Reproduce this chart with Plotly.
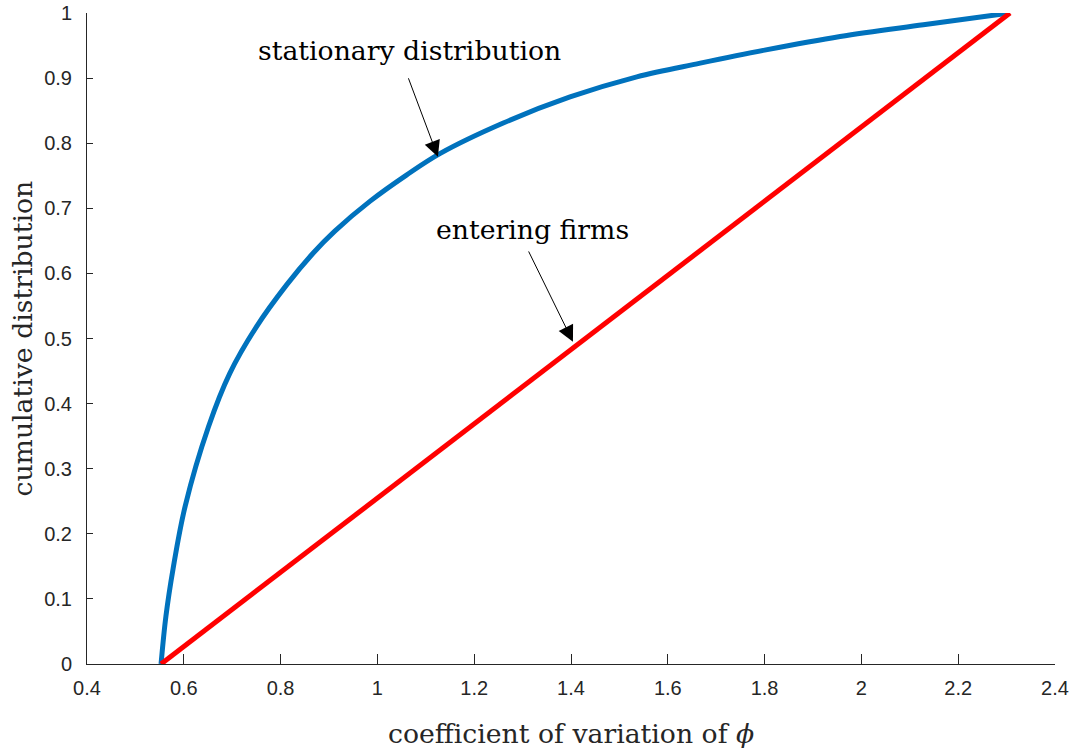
import plotly.graph_objects as go

# Stationary distribution (blue curve)
stat_x = [0.553, 0.563, 0.578, 0.603, 0.651, 0.695, 0.750, 0.812, 0.867, 0.912, 0.985,
          1.06, 1.129, 1.26, 1.398, 1.536, 1.667, 1.80, 1.956, 2.128, 2.307]
stat_y = [0.0, 0.073, 0.147, 0.243, 0.3645, 0.4465, 0.518, 0.582, 0.631, 0.665, 0.711,
          0.751, 0.784, 0.831, 0.871, 0.902, 0.923, 0.943, 0.964, 0.982, 1.0]

# Entering firms (red line)
enter_x = [0.553, 2.307]
enter_y = [0.0, 1.0]

x_ticks = [0.4, 0.6, 0.8, 1.0, 1.2, 1.4, 1.6, 1.8, 2.0, 2.2, 2.4]
x_ticklabels = ["0.4", "0.6", "0.8", "1", "1.2", "1.4", "1.6", "1.8", "2", "2.2", "2.4"]
y_ticks = [0, 0.1, 0.2, 0.3, 0.4, 0.5, 0.6, 0.7, 0.8, 0.9, 1.0]
y_ticklabels = ["0", "0.1", "0.2", "0.3", "0.4", "0.5", "0.6", "0.7", "0.8", "0.9", "1"]

SERIF = "DejaVu Serif, Liberation Serif, serif"
SANS = "Liberation Sans, Arial, sans-serif"
AXC = "#262626"
TXT = 26.7

fig = go.Figure()
fig.add_trace(go.Scatter(x=stat_x, y=stat_y, mode="lines",
                         line=dict(color="#0072BD", width=5, shape="spline", smoothing=1.0),
                         showlegend=False))
fig.add_trace(go.Scatter(x=enter_x, y=enter_y, mode="lines",
                         line=dict(color="#FF0000", width=5),
                         showlegend=False))

# text labels
fig.add_annotation(x=1.067, y=0.943, xref="x", yref="y", text="stationary distribution",
                   showarrow=False, font=dict(family=SERIF, size=TXT, color="black"))
fig.add_annotation(x=1.321, y=0.667, xref="x", yref="y", text="entering firms",
                   showarrow=False, font=dict(family=SERIF, size=TXT, color="black"))
# arrows
fig.add_annotation(x=1.125, y=0.779, ax=1.063, ay=0.902, xref="x", yref="y",
                   axref="x", ayref="y", text="", showarrow=True,
                   arrowhead=2, arrowsize=3.2, arrowwidth=1, arrowcolor="black")
fig.add_annotation(x=1.404, y=0.495, ax=1.311, ay=0.636, xref="x", yref="y",
                   axref="x", ayref="y", text="", showarrow=True,
                   arrowhead=2, arrowsize=3.2, arrowwidth=1, arrowcolor="black")

# axis titles
fig.add_annotation(x=0.5, y=-0.106, xref="paper", yref="paper",
                   text="coefficient of variation of <i>ϕ</i>", showarrow=False,
                   xanchor="center", yanchor="middle",
                   font=dict(family=SERIF, size=TXT, color=AXC))
fig.add_annotation(x=-0.0671, y=0.5, xref="paper", yref="paper",
                   text="cumulative distribution", showarrow=False, textangle=-90,
                   xanchor="center", yanchor="middle",
                   font=dict(family=SERIF, size=TXT, color=AXC))

fig.update_layout(
    width=1074, height=748,
    margin=dict(l=87, r=19, t=13, b=84),
    paper_bgcolor="white", plot_bgcolor="white",
    xaxis=dict(range=[0.4, 2.4], tickvals=x_ticks, ticktext=x_ticklabels,
               automargin=False,
               showgrid=False, zeroline=False, showline=True, linecolor=AXC, linewidth=1,
               ticks="inside", ticklen=10, tickcolor=AXC, tickwidth=1,
               ticklabelstandoff=6,
               tickfont=dict(family=SANS, size=20, color=AXC)),
    yaxis=dict(range=[0, 1], tickvals=y_ticks, ticktext=y_ticklabels,
               automargin=False,
               showgrid=False, zeroline=False, showline=True, linecolor=AXC, linewidth=1,
               ticks="inside", ticklen=6, tickcolor=AXC, tickwidth=1,
               ticklabelstandoff=10,
               tickfont=dict(family=SANS, size=20, color=AXC)),
)

fig.write_html("out.html", config={"displayModeBar": False},
               post_script="document.body.style.margin='0';document.body.style.overflow='hidden';")
